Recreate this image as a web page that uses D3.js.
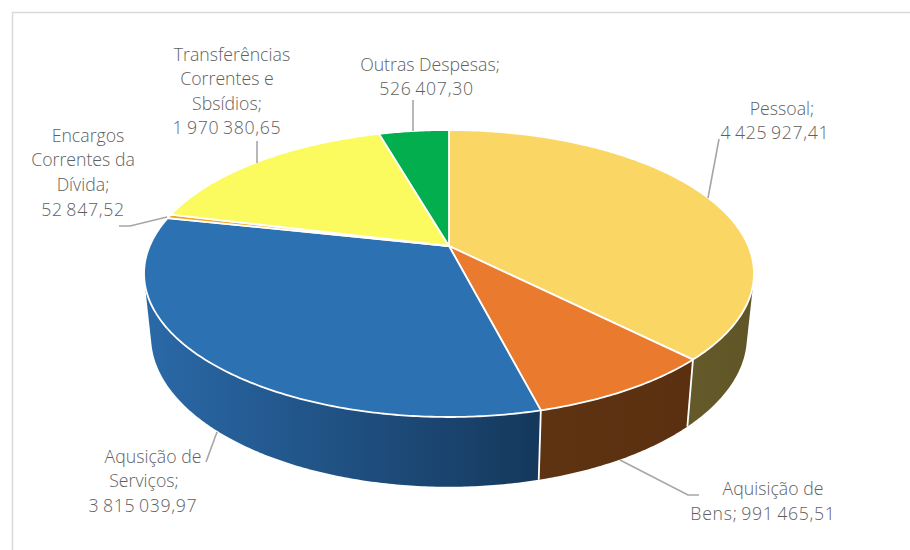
<!DOCTYPE html>
<html lang="pt">
<head>
<meta charset="utf-8">
<script src="https://cdn.jsdelivr.net/npm/d3@7/dist/d3.min.js"></script>
<style>
  html, body { margin: 0; padding: 0; background: #fff; }
  svg { display: block; }
  text { font-family: "Open Sans", sans-serif; font-size: 17.7px; font-weight: 300; fill: #5f5f5f; text-anchor: middle; }
  text.amount { letter-spacing: 0.7px; word-spacing: -1.7px; }
</style>
</head>
<body>
<svg id="chart" width="910" height="550"></svg>
<script>
// Despesas por categoria
const categories = ["Pessoal", "Aquisição de Bens", "Aquisição de Serviços",
  "Encargos Correntes da Dívida", "Transferências Correntes e Subsídios", "Outras Despesas"];
const values = [4425927.41, 991465.51, 3815039.97, 52847.52, 1970380.65, 526407.30];
const topColors = ["#fad764", "#ea7a2d", "#2c72b2", "#f5a623", "#fbfb60", "#03ae4e"];
const wallStart = ["#645a2a", "#5e3312", "#2a69a8", "#8a5a10", "#8a8a30", "#026030"];
const wallEnd = ["#5f5526", "#5a3010", "#15385c", "#8a5a10", "#8a8a30", "#026030"];

const labelLines = [
  ["Pessoal;", "4 425 927,41"],
  ["Aquisição de", "Bens; 991 465,51"],
  ["Aqusição de", "Serviços;", "3 815 039,97"],
  ["Encargos", "Correntes da", "Dívida;", "52 847,52"],
  ["Transferências", "Correntes e", "Sbsídios;", "1 970 380,65"],
  ["Outras Despesas;", "526 407,30"]
];

// Label placement: one [centre x, baseline y] per text line
const labelAnchors = [
  [[782, 115], [775, 139]],
  [[773, 495], [763, 520]],
  [[153, 463], [144, 487], [143, 512]],
  [[88, 142], [83, 166], [83, 191], [83, 216]],
  [[232, 61], [227, 85], [227, 110], [227, 134]],
  [[430, 71], [426.5, 95]]
];

// Leader line vertices
const leaders = [
  [[719, 139], [708, 198]],
  [[620, 460], [688, 495], [699, 495]],
  [[206, 462], [217, 432]],
  [[119, 226], [130, 226], [167, 217]],
  [[257, 141], [257, 163]],
  [[413, 100], [413, 131]]
];

const svg = d3.select("#chart");

// Chart frame: only the top and left edges fall inside the window
svg.append("path")
  .attr("d", d3.line()([[12.5, 550], [12.5, 12.5], [910, 12.5]]))
  .attr("fill", "none").attr("stroke", "#d9d9d9").attr("stroke-width", 1.5);

// Perspective projection of the unit disc onto the screen
const apex = { x: 449, y: 246 };
const persp = -0.1916, scaleY = 91.1, scaleX = 299.3;
const topCentreY = 273.5, bottomCentreY = 336.4, bottomShrinkX = 0.977, bottomStretchY = 1.048;

function rimTop(theta) {
  const u = Math.sin(theta), v = -Math.cos(theta), w = 1 + persp * v;
  return [apex.x + scaleX * u / w, (apex.y + scaleY * v) / w];
}
function rimBottom(theta) {
  const p = rimTop(theta);
  return [apex.x + bottomShrinkX * (p[0] - apex.x),
          bottomCentreY + bottomStretchY * (p[1] - topCentreY)];
}
function sampleAngles(a0, a1) {
  const n = Math.max(2, Math.ceil(Math.abs(a1 - a0) / 0.01));
  const t = d3.scaleLinear().domain([0, n]).range([a0, a1]);
  return d3.range(n + 1).map(t);
}

const slices = d3.pie().sort(null).value(d => d)(values);
const line = d3.line();
const defs = svg.append("defs");

// Side wall, only along the near half of the rim; the hull gives straight
// silhouette edges and its far chord stays hidden under the top face
const nearFrom = Math.PI / 3, nearTo = Math.PI * 5 / 3;
const walls = svg.append("g");
slices.forEach((s, i) => {
  const a0 = Math.max(s.startAngle, nearFrom), a1 = Math.min(s.endAngle, nearTo);
  if (a1 <= a0) return;
  const angles = sampleAngles(a0, a1);
  const pts = angles.map(rimTop).concat(angles.map(rimBottom));
  const xs = pts.map(p => p[0]);
  const grad = defs.append("linearGradient").attr("id", "wall" + i)
    .attr("gradientUnits", "userSpaceOnUse")
    .attr("x1", d3.min(xs)).attr("x2", d3.max(xs)).attr("y1", 0).attr("y2", 0);
  grad.append("stop").attr("offset", 0).attr("stop-color", wallStart[i]);
  grad.append("stop").attr("offset", 1).attr("stop-color", wallEnd[i]);
  walls.append("path").attr("d", line(d3.polygonHull(pts)) + "Z").attr("fill", `url(#wall${i})`);
});

// White seams between neighbouring wall sections
slices.forEach(s => {
  if (s.startAngle > nearFrom && s.startAngle < Math.PI * 1.5) {
    walls.append("path").attr("d", line([rimTop(s.startAngle), rimBottom(s.startAngle)]))
      .attr("stroke", "#fff").attr("stroke-width", 1.8).attr("fill", "none");
  }
});

// Top face of the pie
const faces = svg.append("g");
slices.forEach((s, i) => {
  const pts = [[apex.x, apex.y]].concat(sampleAngles(s.startAngle, s.endAngle).map(rimTop));
  faces.append("path").attr("d", line(pts) + "Z")
    .attr("fill", topColors[i]).attr("stroke", "#fff")
    .attr("stroke-width", 1.8).attr("stroke-linejoin", "round");
});

// Leader lines
svg.append("g").selectAll("path").data(leaders).join("path")
  .attr("d", d => line(d)).attr("fill", "none")
  .attr("stroke", "#a6a6a6").attr("stroke-width", 1.6);

// Data labels; lines holding an amount get tighter word gaps
const labels = svg.append("g");
labelLines.forEach((lines, i) => {
  lines.forEach((txt, j) => {
    labels.append("text")
      .attr("class", /\d/.test(txt) ? "amount" : null)
      .attr("x", labelAnchors[i][j][0]).attr("y", labelAnchors[i][j][1]).text(txt);
  });
});
</script>
</body>
</html>
